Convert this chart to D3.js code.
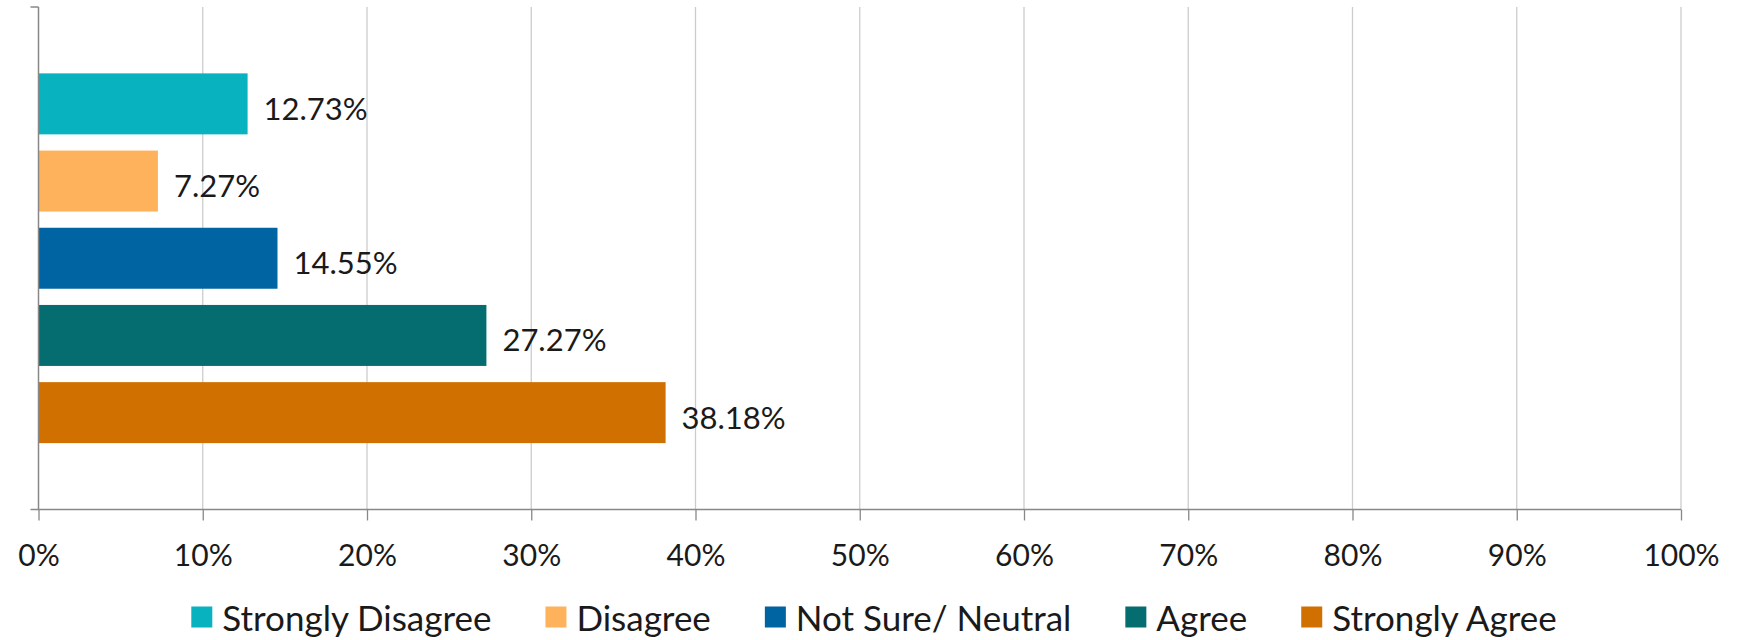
<!DOCTYPE html>
<html>
<head>
<meta charset="utf-8">
<script src="https://cdn.jsdelivr.net/npm/d3@7"></script>
<style>
  body { margin: 0; background: #fff; }
  svg text { font-family: Lato, "Open Sans", sans-serif; fill: #1a1a1a; }
</style>
</head>
<body>
<svg id="chart"></svg>
<script>
var categories = ["Strongly Disagree", "Disagree", "Not Sure/ Neutral", "Agree", "Strongly Agree"];
var values = [12.73, 7.27, 14.55, 27.27, 38.18];
var colors = ["#08B2BF", "#FFB25C", "#0063A2", "#056D70", "#CF7000"];
var tickValues = [0, 10, 20, 30, 40, 50, 60, 70, 80, 90, 100];

var svgWidth = 1737;
var svgHeight = 640;
var plotLeft = 38.5;
var plotRight = 1681;
var plotTop = 7;
var plotBottom = 509.5;

var svg = d3.select("#chart").attr("width", svgWidth).attr("height", svgHeight);

var x = d3.scaleLinear().domain([0, 100]).range([plotLeft, plotRight]);
var y = d3.scaleBand()
  .domain(categories)
  .range([plotTop, plotBottom])
  .paddingInner(0.21)
  .paddingOuter(0.86);

// vertical gridlines
svg.append("g")
  .selectAll("line")
  .data(tickValues.slice(1))
  .enter()
  .append("line")
  .attr("x1", (d) => x(d))
  .attr("x2", (d) => x(d))
  .attr("y1", plotTop)
  .attr("y2", plotBottom)
  .attr("stroke", "#cccccc")
  .attr("stroke-width", 1.3);

// bars
svg.append("g")
  .selectAll("rect")
  .data(categories)
  .enter()
  .append("rect")
  .attr("x", x(0))
  .attr("y", (d) => y(d))
  .attr("width", (d, i) => x(values[i]) - x(0))
  .attr("height", y.bandwidth())
  .attr("fill", (d, i) => colors[i]);

// value labels
svg.append("g")
  .selectAll("text")
  .data(categories)
  .enter()
  .append("text")
  .attr("x", (d, i) => x(values[i]) + 16)
  .attr("y", (d) => y(d) + y.bandwidth() / 2 + 4)
  .attr("dominant-baseline", "central")
  .attr("font-size", 31)
  .text((d, i) => d3.format(".2f")(values[i]) + "%");

// x axis
var xAxis = d3.axisBottom(x)
  .tickValues(tickValues)
  .tickSize(11)
  .tickPadding(24)
  .tickFormat((d) => d + "%");
var xAxisNode = svg.append("g")
  .attr("transform", `translate(0,${plotBottom})`)
  .call(xAxis);
xAxisNode.select(".domain").remove();
xAxisNode.selectAll(".tick line").attr("stroke", "#888").attr("stroke-width", 1.3);
xAxisNode.selectAll(".tick text")
  .attr("font-size", 30)
  .attr("fill", "#1a1a1a");
svg.append("line")
  .attr("x1", plotLeft - 8)
  .attr("x2", plotRight)
  .attr("y1", plotBottom)
  .attr("y2", plotBottom)
  .attr("stroke", "#888")
  .attr("stroke-width", 1.5);

// y axis line with end ticks
svg.append("line")
  .attr("x1", plotLeft)
  .attr("x2", plotLeft)
  .attr("y1", plotTop)
  .attr("y2", plotBottom)
  .attr("stroke", "#888")
  .attr("stroke-width", 1.5);
svg.append("line")
  .attr("x1", plotLeft - 8)
  .attr("x2", plotLeft)
  .attr("y1", plotTop)
  .attr("y2", plotTop)
  .attr("stroke", "#888")
  .attr("stroke-width", 1.5);

// legend
var legendY = 617;
var swatch = 21;
var legend = svg.append("g").attr("id", "legend");
var items = legend.selectAll("g")
  .data(categories)
  .enter()
  .append("g");
items.append("rect")
  .attr("width", swatch)
  .attr("height", swatch)
  .attr("y", legendY - swatch / 2)
  .attr("fill", (d, i) => colors[i]);
items.append("text")
  .attr("x", swatch + 10)
  .attr("y", legendY)
  .attr("dominant-baseline", "central")
  .attr("font-size", 35)
  .text((d) => d);
var offset = 0;
var gap = 54;
items.each(function () {
  var w = this.getBBox().width;
  d3.select(this).attr("transform", `translate(${offset},0)`);
  offset += w + gap;
});
var legendWidth = offset - gap;
var legendCenter = 874;
legend.attr("transform", `translate(${legendCenter - legendWidth / 2},0)`);
</script>
</body>
</html>
